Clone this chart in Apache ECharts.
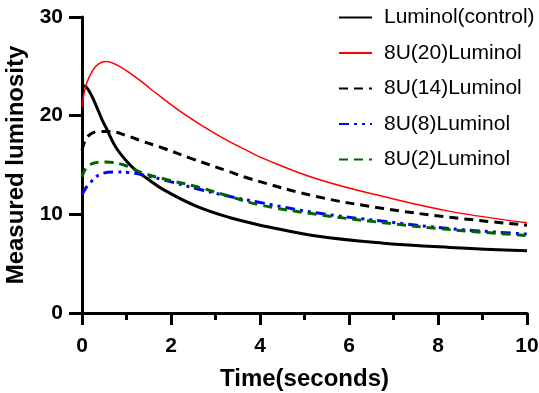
<!DOCTYPE html>
<html>
<head>
<meta charset="utf-8">
<script src="https://cdn.jsdelivr.net/npm/echarts@6/dist/echarts.min.js"></script>
<style>
  html, body { margin: 0; padding: 0; background: #fff; }
  #chart { width: 539px; height: 393px; }
</style>
</head>
<body>
<div id="chart"></div>
<script>
// time (s) and measured luminosity
const controlT = [0, 0.05, 0.16, 0.31, 0.46, 0.55, 0.76, 1.06, 1.23, 1.44, 1.83, 2.58, 3.33, 3.78, 4.0, 5.27, 6.77, 8.27, 10]
const controlV = [22.8, 23.0, 22.5, 21.1, 19.5, 18.7, 16.8, 15.1, 14.4, 13.7, 12.5, 10.8, 9.65, 9.15, 8.9, 7.8, 7.08, 6.65, 6.3]

const u20T = [0, 0.09, 0.24, 0.39, 0.54, 0.84, 1.14, 1.44, 1.6, 2.35, 3.1, 3.78, 4.0, 5.27, 6.77, 8.27, 10]
const u20V = [20.9, 23.1, 24.6, 25.3, 25.5, 25.0, 24.1, 23.1, 22.5, 20.0, 17.9, 16.3, 15.8, 13.6, 11.8, 10.3, 9.15]

const u14T = [0, 0.13, 0.39, 0.61, 0.99, 1.36, 1.83, 2.43, 3.33, 3.78, 5.27, 6.77, 8.27, 10]
const u14V = [16.5, 17.9, 18.4, 18.4, 18.0, 17.4, 16.7, 15.7, 14.3, 13.6, 11.8, 10.6, 9.7, 8.9]

const u8T = [0, 0.16, 0.46, 0.76, 1.06, 1.36, 1.83, 2.58, 3.33, 4.0, 5.27, 6.77, 8.27, 10]
const u8V = [12.0, 13.1, 14.15, 14.3, 14.25, 14.0, 13.5, 12.6, 11.8, 11.2, 10.15, 9.3, 8.55, 8.0]

const u2T = [0, 0.16, 0.54, 0.91, 1.36, 1.83, 2.58, 3.33, 4.0, 5.27, 6.77, 8.27, 10]
const u2V = [13.8, 15.0, 15.3, 15.05, 14.2, 13.6, 12.8, 11.8, 10.95, 10.0, 9.15, 8.45, 7.85]

const seriesNames = ['Luminol(control)', '8U(20)Luminol', '8U(14)Luminol', '8U(8)Luminol', '8U(2)Luminol']

const pairs = (t, v) => t.map((x, i) => [x, v[i]])

const FONT = '"Liberation Sans", Arial, sans-serif'

const chart = echarts.init(document.getElementById('chart'))

const lineSeries = (name, t, v, color, width, type) => ({
    name,
    type: 'line',
    data: pairs(t, v),
    symbol: 'none',
    smooth: 0.4,
    lineStyle: { color, width, type },
    itemStyle: { color }
})

const option = {
    animation: false,
    backgroundColor: '#fff',
    grid: { left: 82, right: 12, top: 17, bottom: 80, outerBoundsMode: 'none' },
    legend: {
        orient: 'vertical',
        left: 333,
        top: 2,
        itemWidth: 33,
        itemHeight: 14,
        itemGap: 14.5,
        data: seriesNames,
        itemStyle: { opacity: 0 },
        textStyle: { fontFamily: FONT, fontSize: 21, color: '#000', padding: [0, 0, 0, 7] }
    },
    xAxis: {
        type: 'value',
        min: 0,
        max: 10,
        interval: 2,
        name: 'Time(seconds)',
        nameLocation: 'middle',
        nameGap: 54,
        nameTextStyle: { fontFamily: FONT, fontSize: 24, fontWeight: 'bold', color: '#000' },
        axisLine: { show: true, lineStyle: { color: '#000', width: 3 } },
        axisTick: { show: true, length: 12, lineStyle: { color: '#000', width: 3 } },
        minorTick: { show: true, splitNumber: 2, length: 7, lineStyle: { color: '#000', width: 3 } },
        axisLabel: { fontFamily: FONT, fontSize: 21, fontWeight: 'bold', color: '#000', margin: 23 },
        splitLine: { show: false }
    },
    yAxis: {
        type: 'value',
        min: 0,
        max: 30,
        interval: 10,
        name: 'Measured luminosity',
        nameLocation: 'middle',
        nameGap: 51,
        nameTextStyle: { fontFamily: FONT, fontSize: 24, fontWeight: 'bold', color: '#000' },
        axisLine: { show: true, lineStyle: { color: '#000', width: 3 } },
        axisTick: { show: true, length: 13, lineStyle: { color: '#000', width: 3 } },
        axisLabel: { fontFamily: FONT, fontSize: 21, fontWeight: 'bold', color: '#000', margin: 19 },
        splitLine: { show: false }
    },
    series: [
        lineSeries(seriesNames[0], controlT, controlV, '#000000', 3, 'solid'),
        lineSeries(seriesNames[1], u20T, u20V, '#ff0000', 1.5, 'solid'),
        lineSeries(seriesNames[2], u14T, u14V, '#000000', 3, [9, 6]),
        lineSeries(seriesNames[3], u8T, u8V, '#0000ff', 3, [10, 5, 3, 5, 3, 5]),
        lineSeries(seriesNames[4], u2T, u2V, '#006400', 3, [9, 6])
    ]
}

chart.setOption(option)
</script>
</body>
</html>
